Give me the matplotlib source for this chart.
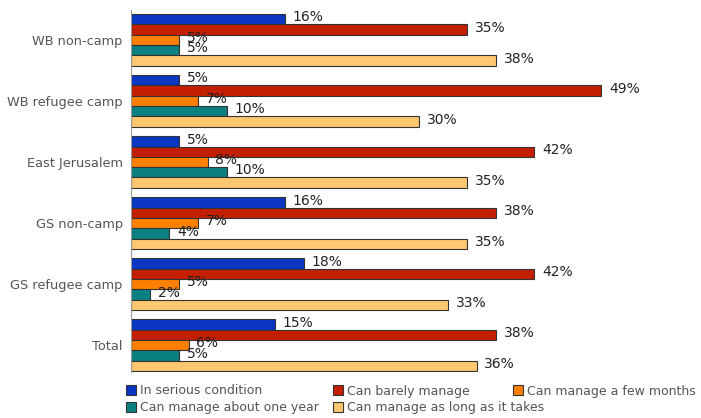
import matplotlib
matplotlib.use("Agg")
import matplotlib.pyplot as plt
from matplotlib.patches import Patch
import numpy as np

plt.rcParams['font.family'] = ['DejaVu Sans']

categories = ["WB non-camp", "WB refugee camp", "East Jerusalem", "GS non-camp", "GS refugee camp", "Total"]
series_names = ["In serious condition", "Can barely manage", "Can manage a few months",
                "Can manage about one year", "Can manage as long as it takes"]
serious = [16, 5, 5, 16, 18, 15]
barely = [35, 49, 42, 38, 42, 38]
few_months = [5, 7, 8, 7, 5, 6]
one_year = [5, 10, 10, 4, 2, 5]
long_takes = [38, 30, 35, 35, 33, 36]
series = [serious, barely, few_months, one_year, long_takes]
colors = ["#0a36c4", "#c41e00", "#ff8000", "#0a8080", "#ffc870"]

W, H = 701, 418
fig = plt.figure(figsize=(W / 100, H / 100), dpi=100)
left_px, right_px = 131, 680
top_px, bot_px = 10, 372
ax = fig.add_axes([left_px / W, 1 - bot_px / H, (right_px - left_px) / W, (bot_px - top_px) / H])
px_per_pct = 9.6
ax.set_xlim(0, (right_px - left_px) / px_per_pct)

bh = 0.169
y = np.arange(len(categories))
for k, (vals, c) in enumerate(zip(series, colors)):
    yy = y + (k - 2) * bh
    ax.barh(yy, vals, height=bh, color=c, edgecolor="#333333", linewidth=0.8)
    for yi, v in zip(yy, vals):
        ax.text(v + 0.8, yi - 0.03, f"{v}%", va="center", ha="left", fontsize=10, color="#222222")

ax.set_ylim(5.44, -0.49)
ax.set_yticks(y)
ax.set_yticklabels(categories, fontsize=9.3, color="#555555")
ax.tick_params(axis="y", length=0, pad=6)
ax.set_xticks([])
for s in ["top", "right", "bottom"]:
    ax.spines[s].set_visible(False)
ax.spines["left"].set_color("#999999")
ax.spines["left"].set_linewidth(0.8)

# legend items positioned like the original flow layout
leg_pos = [(126, 391), (333, 391), (513, 391), (126, 408), (333, 408)]
for name, c, (lx, ly) in zip(series_names, colors, leg_pos):
    lg = fig.legend(handles=[Patch(facecolor=c, edgecolor="#333333", linewidth=0.8)], labels=[name],
                    loc="center left", bbox_to_anchor=(lx / W, 1 - ly / H), frameon=False,
                    fontsize=9, handlelength=0.8, handleheight=0.8, handletextpad=0.3,
                    borderpad=0, borderaxespad=0)
    for t in lg.get_texts():
        t.set_color("#555555")

fig.savefig("out.png", dpi=100)
